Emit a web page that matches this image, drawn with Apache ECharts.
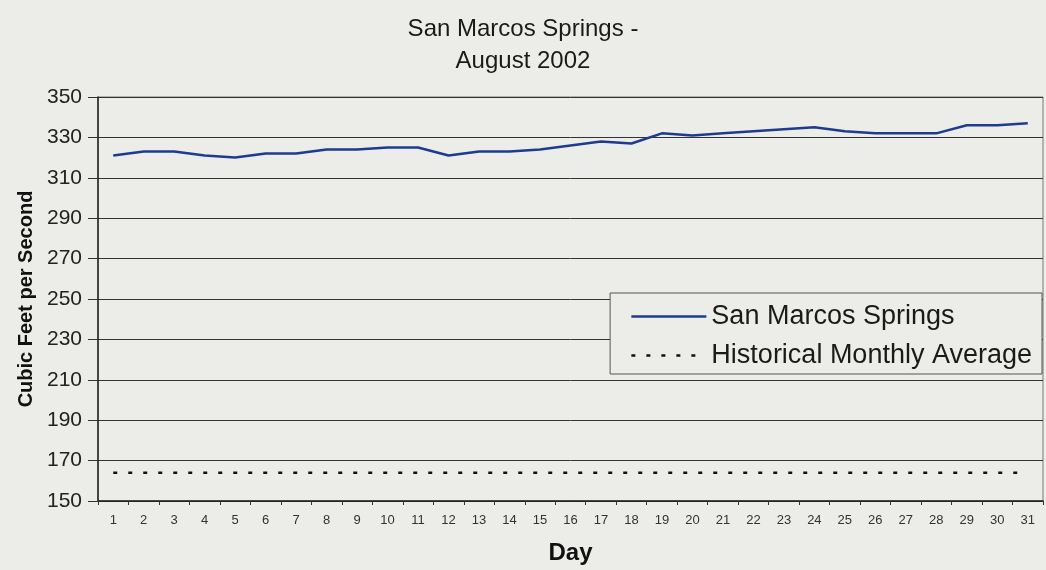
<!DOCTYPE html>
<html>
<head>
<meta charset="utf-8">
<script src="https://cdn.jsdelivr.net/npm/echarts@6/dist/echarts.min.js"></script>
<style>
  html, body { margin: 0; padding: 0; background: #ecece8; }
  #chart { width: 1046px; height: 570px; }
</style>
</head>
<body>
<div id="chart"></div>
<script>
const days = ['1','2','3','4','5','6','7','8','9','10','11','12','13','14','15','16','17','18','19','20','21','22','23','24','25','26','27','28','29','30','31'];
const springsFlow = [321, 323, 323, 321, 320, 322, 322, 324, 324, 325, 325, 321, 323, 323, 324, 326, 328, 327, 332, 331, 332, 333, 334, 335, 333, 332, 332, 332, 336, 336, 337];
const historicalAverage = [164, 164, 164, 164, 164, 164, 164, 164, 164, 164, 164, 164, 164, 164, 164, 164, 164, 164, 164, 164, 164, 164, 164, 164, 164, 164, 164, 164, 164, 164, 164];
const yTicks = { min: 150, max: 350, step: 20 };

const FONT = '"Liberation Sans", Arial, Helvetica, sans-serif';
const chart = echarts.init(document.getElementById('chart'), null, { renderer: 'canvas' });

chart.setOption({
  backgroundColor: '#ecece8',
  animation: false,
  textStyle: { fontFamily: FONT },
  title: {
    text: 'San Marcos Springs -\nAugust 2002',
    left: 'center',
    top: 13,
    padding: 0,
    textStyle: { fontFamily: FONT, fontSize: 24, fontWeight: 'normal', color: '#1a1a1a', lineHeight: 32 }
  },
  legend: {
    orient: 'vertical',
    right: 4,
    top: 293,
    padding: [10, 10, 5, 20],
    itemGap: 12,
    itemWidth: 75,
    itemHeight: 14,
    backgroundColor: '#ecece8',
    borderColor: '#555',
    borderWidth: 1,
    borderRadius: 0,
    itemStyle: { color: 'transparent', borderWidth: 0, opacity: 0 },
    lineStyle: { width: 2.5 },
    textStyle: { fontFamily: FONT, fontSize: 27, color: '#1a1a1a', lineHeight: 26 },
    data: ['San Marcos Springs', 'Historical Monthly Average']
  },
  grid: {
    left: 98, right: 3, top: 97, bottom: 69,
    show: true, borderColor: '#777', borderWidth: 1, backgroundColor: 'transparent'
  },
  xAxis: {
    type: 'category',
    data: days,
    boundaryGap: true,
    name: 'Day',
    nameLocation: 'middle',
    nameGap: 40,
    nameTextStyle: { fontFamily: FONT, fontSize: 24, fontWeight: 'bold', color: '#111' },
    axisLine: { lineStyle: { color: '#222', width: 1.5 } },
    axisTick: { show: true, length: 4, lineStyle: { color: '#333' } },
    axisLabel: { fontSize: 13, color: '#333', margin: 13, interval: 0 },
    splitLine: { show: false }
  },
  yAxis: {
    type: 'value',
    min: yTicks.min,
    max: yTicks.max,
    interval: yTicks.step,
    name: 'Cubic Feet per Second',
    nameLocation: 'middle',
    nameRotate: 90,
    nameGap: 62,
    nameTextStyle: { fontFamily: FONT, fontSize: 20, fontWeight: 'bold', color: '#111' },
    axisLine: { show: true, lineStyle: { color: '#222', width: 1.5 } },
    axisTick: { show: true, length: 10, lineStyle: { color: '#333' } },
    axisLabel: { fontSize: 21, color: '#222', margin: 16 },
    splitLine: { show: true, lineStyle: { color: '#333', width: 1 } }
  },
  series: [
    {
      name: 'San Marcos Springs',
      type: 'line',
      data: springsFlow,
      symbol: 'none',
      lineStyle: { color: '#1d3c8f', width: 2.5 },
      itemStyle: { color: '#1d3c8f' }
    },
    {
      name: 'Historical Monthly Average',
      type: 'line',
      data: historicalAverage,
      symbol: 'none',
      lineStyle: { color: '#111', width: 2.5, type: [4, 11] },
      itemStyle: { color: '#111' }
    }
  ]
});
</script>
</body>
</html>
